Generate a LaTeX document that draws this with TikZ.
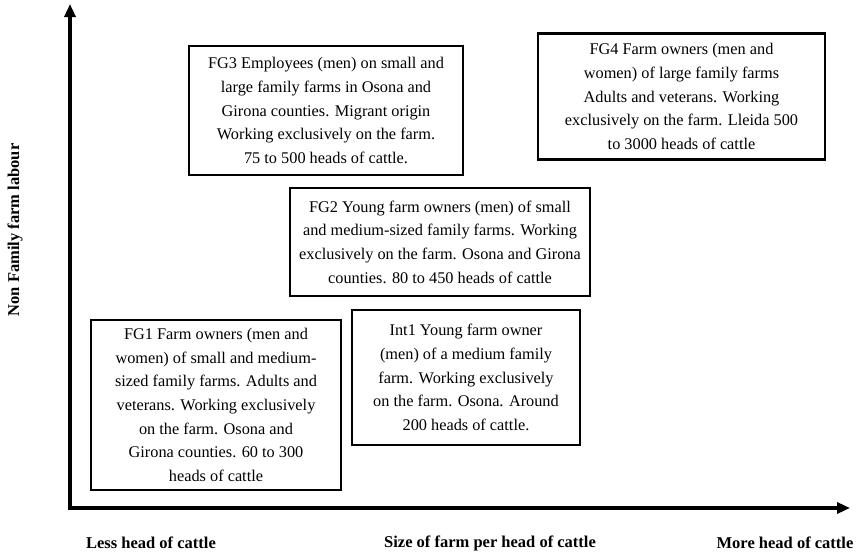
\documentclass[tikz,border=0pt]{standalone}
\usepackage{fontspec}
\setmainfont{Liberation Serif}
\usetikzlibrary{arrows.meta}
\begin{document}
\begin{tikzpicture}[x=1pt,y=-1pt,
  grp/.style={draw=black, line width=2.8pt, fill=white, align=center, inner sep=0pt,
    font=\fontsize{16.3}{23.6}\selectfont},
  axis/.style={line width=3.2pt, {Triangle[length=13pt,width=11pt]}-{Triangle[length=13pt,width=11pt]}},
  axlab/.style={font=\fontsize{16.5}{18}\selectfont\bfseries, inner sep=0pt}]
\useasboundingbox (0,0) rectangle (856,554);
\coordinate (O) at (70,508);
\coordinate (ytip) at (70,4);
\coordinate (xtip) at (850,508);
\draw[axis] (ytip) -- (O) -- (xtip);

\node[grp, minimum width=274pt, minimum height=129pt] (fg3) at (326,110.5)
  {FG3 Employees (men) on small and\\ large family farms in Osona and\\ Girona counties. Migrant origin\\ Working exclusively on the farm.\\ 75 to 500 heads of cattle.};
\node[grp, minimum width=287pt, minimum height=126pt] (fg4) at (681.5,96.5)
  {FG4 Farm owners (men and\\ women) of large family farms\\ Adults and veterans. Working\\ exclusively on the farm. Lleida 500\\ to 3000 heads of cattle};
\node[grp, minimum width=300pt, minimum height=108pt] (fg2) at (440,242)
  {FG2 Young farm owners (men) of small\\ and medium-sized family farms. Working\\ exclusively on the farm. Osona and Girona\\ counties. 80 to 450 heads of cattle};
\node[grp, minimum width=250pt, minimum height=170pt] (fg1) at (216,405)
  {FG1 Farm owners (men and\\ women) of small and medium-\\ sized family farms. Adults and\\ veterans. Working exclusively\\ on the farm. Osona and\\ Girona counties. 60 to 300\\ heads of cattle};
\node[grp, minimum width=228pt, minimum height=135pt] (int1) at (466,377.5)
  {Int1 Young farm owner\\ (men) of a medium family\\ farm. Working exclusively\\ on the farm. Osona. Around\\ 200 heads of cattle.};

\node[axlab, rotate=90] (ylab) at (15,230) {Non Family farm labour};
\node[axlab] (xl1) at (151,543) {Less head of cattle};
\node[axlab] (xl2) at (490,543) {Size of farm per head of cattle};
\node[axlab] (xl3) at (785,543) {More head of cattle};
\end{tikzpicture}
\end{document}
